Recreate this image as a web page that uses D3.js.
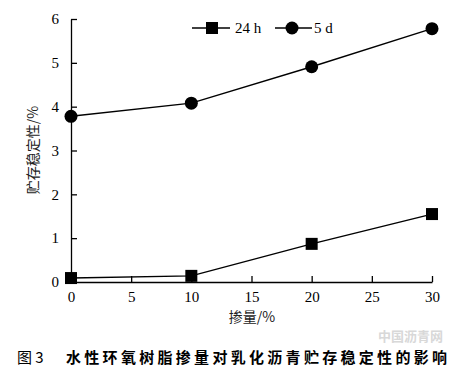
<!DOCTYPE html>
<html><head><meta charset="utf-8">
<script src="https://cdn.jsdelivr.net/npm/d3@7"></script>
<style>body{margin:0;background:#fff;}</style>
</head><body>
<svg id="c" width="463" height="372"></svg>
<script>
const dosage = [0, 10, 20, 30];
const series24h = [0.09, 0.14, 0.87, 1.55];
const series5d = [3.78, 4.08, 4.91, 5.78];
const xTicks = [0, 5, 10, 15, 20, 25, 30];
const yTicks = [0, 1, 2, 3, 4, 5, 6];
const seriesNames = ["24 h", "5 d"];

const svg = d3.select("#c");
const serif = "'Liberation Serif','Times New Roman',serif";
const cjk = "'Noto Sans CJK SC',sans-serif";
const x = d3.scaleLinear().domain([0, 30]).range([71, 432]);
const y = d3.scaleLinear().domain([0, 6]).range([282, 19]);

// axes
const xa = svg.append("g").attr("transform", "translate(0,282)")
  .call(d3.axisBottom(x).tickValues(xTicks).tickFormat(d3.format("d")).tickSizeInner(-6).tickSizeOuter(0).tickPadding(9));
const ya = svg.append("g").attr("transform", "translate(71,0)")
  .call(d3.axisLeft(y).tickValues(yTicks).tickFormat(d3.format("d")).tickSizeInner(-6).tickSizeOuter(0).tickPadding(12));
[xa, ya].forEach(a => {
  a.selectAll("path,line").attr("stroke", "#000").attr("stroke-width", 1.3);
  a.selectAll("text").attr("font-family", serif).attr("font-size", 15).attr("fill", "#000");
});
ya.selectAll(".tick").filter(d => d === 0).select("line").remove();

const line = d3.line().x((d, i) => x(dosage[i])).y(d => y(d));
svg.append("path").datum(series24h).attr("d", line).attr("fill", "none").attr("stroke", "#000").attr("stroke-width", 1.4);
svg.append("path").datum(series5d).attr("d", line).attr("fill", "none").attr("stroke", "#000").attr("stroke-width", 1.4);

svg.selectAll(".sq").data(series24h).enter().append("rect")
  .attr("x", (d, i) => x(dosage[i]) - 6).attr("y", d => y(d) - 6)
  .attr("width", 12).attr("height", 12).attr("fill", "#000");
svg.selectAll(".ci").data(series5d).enter().append("circle")
  .attr("cx", (d, i) => x(dosage[i])).attr("cy", d => y(d)).attr("r", 6.5).attr("fill", "#000");

// legend
const lg = svg.append("g");
lg.append("line").attr("x1", 192).attr("x2", 230).attr("y1", 28).attr("y2", 28).attr("stroke", "#000").attr("stroke-width", 1.4);
lg.append("rect").attr("x", 206).attr("y", 22).attr("width", 12).attr("height", 12).attr("fill", "#000");
lg.append("text").attr("x", 235).attr("y", 33).text(seriesNames[0]).attr("font-family", serif).attr("font-size", 15);
lg.append("line").attr("x1", 275).attr("x2", 312).attr("y1", 28).attr("y2", 28).attr("stroke", "#000").attr("stroke-width", 1.4);
lg.append("circle").attr("cx", 292).attr("cy", 28).attr("r", 6.5).attr("fill", "#000");
lg.append("text").attr("x", 314).attr("y", 33).text(seriesNames[1]).attr("font-family", serif).attr("font-size", 15);

// axis titles
svg.append("text").attr("transform", "translate(38,150) rotate(-90)").attr("text-anchor", "middle")
  .attr("font-family", cjk).attr("font-size", 14).attr("fill", "#222").text("贮存稳定性/%");
svg.append("text").attr("x", 252).attr("y", 322).attr("text-anchor", "middle")
  .attr("font-family", cjk).attr("font-size", 14).attr("fill", "#222").text("掺量/%");

// watermark
svg.append("text").attr("x", 378).attr("y", 341).attr("font-family", cjk).attr("font-size", 13)
  .attr("font-weight", "bold").attr("fill", "#d8d8d8").text("中国沥青网");

// caption
svg.append("text").attr("x", 17).attr("y", 363).attr("font-family", cjk).attr("font-size", 15)
  .attr("fill", "#000").text("图 3");
svg.append("text").attr("x", 66).attr("y", 363).attr("font-family", cjk).attr("font-size", 15)
  .attr("font-weight", "bold").attr("fill", "#000").attr("textLength", 381).text("水性环氧树脂掺量对乳化沥青贮存稳定性的影响");
</script>
</body></html>
